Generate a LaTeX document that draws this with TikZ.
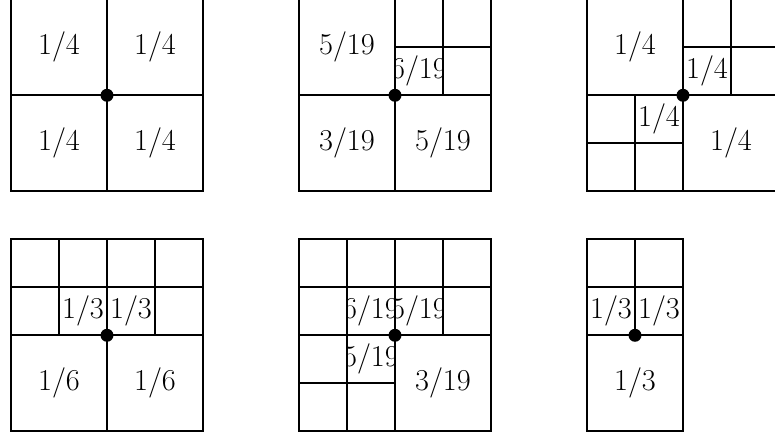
\documentclass[tikz,border=0pt]{standalone}
\usepackage{fontspec}
\usetikzlibrary{calc}

% number in a cell, cut to the cell
\newcommand{\cellnum}[4]{%
  \begin{scope}
    \clip #2 rectangle #3;
    \node (#1) at ($#2!0.5!#3$) {#4};
  \end{scope}}

\begin{document}
\begin{tikzpicture}[line width=1pt,
  every node/.style={font=\fontsize{18}{22}\selectfont},
  dot/.style={circle, fill, inner sep=0pt, minimum size=0.27cm}]
  \clip (-2.229,-7.16) rectangle (13.917,1.985);

  % top left
  \cellnum{a1}{(-2,0)}{(0,2)}{1/4}
  \cellnum{a2}{(0,0)}{(2,2)}{1/4}
  \cellnum{a3}{(-2,-2)}{(0,0)}{1/4}
  \cellnum{a4}{(0,-2)}{(2,0)}{1/4}
  \draw (-2,-2) rectangle (2,2);
  \draw (-2,0) -- (2,0);
  \draw (0,-2) -- (0,2);
  \node[dot] (ca) at (0,0) {};

  % top middle
  \cellnum{b1}{(4,0)}{(6,2)}{5/19}
  \cellnum{b2}{(6,0)}{(7,1)}{6/19}
  \cellnum{b3}{(4,-2)}{(6,0)}{3/19}
  \cellnum{b4}{(6,-2)}{(8,0)}{5/19}
  \draw (4,-2) rectangle (8,2);
  \draw (4,0) -- (8,0);
  \draw (6,-2) -- (6,2);
  \draw (7,0) -- (7,2);
  \draw (6,1) -- (8,1);
  \node[dot] (cb) at (6,0) {};

  % top right
  \cellnum{c1}{(10,0)}{(12,2)}{1/4}
  \cellnum{c2}{(12,0)}{(13,1)}{1/4}
  \cellnum{c3}{(11,-1)}{(12,0)}{1/4}
  \cellnum{c4}{(12,-2)}{(14,0)}{1/4}
  \draw (10,-2) rectangle (14,2);
  \draw (10,0) -- (14,0);
  \draw (12,-2) -- (12,2);
  \draw (13,0) -- (13,2);
  \draw (12,1) -- (14,1);
  \draw (11,-2) -- (11,0);
  \draw (10,-1) -- (12,-1);
  \node[dot] (cc) at (12,0) {};

  % bottom left
  \cellnum{d1}{(-1,-5)}{(0,-4)}{1/3}
  \cellnum{d2}{(0,-5)}{(1,-4)}{1/3}
  \cellnum{d3}{(-2,-7)}{(0,-5)}{1/6}
  \cellnum{d4}{(0,-7)}{(2,-5)}{1/6}
  \draw (-2,-7) rectangle (2,-3);
  \draw (-2,-4) -- (2,-4);
  \draw (-2,-5) -- (2,-5);
  \draw (0,-7) -- (0,-3);
  \draw (-1,-5) -- (-1,-3);
  \draw (1,-5) -- (1,-3);
  \node[dot] (cd) at (0,-5) {};

  % bottom middle
  \cellnum{e1}{(5,-5)}{(6,-4)}{6/19}
  \cellnum{e2}{(6,-5)}{(7,-4)}{5/19}
  \cellnum{e3}{(5,-6)}{(6,-5)}{5/19}
  \cellnum{e4}{(6,-7)}{(8,-5)}{3/19}
  \draw (4,-7) rectangle (8,-3);
  \draw (4,-4) -- (8,-4);
  \draw (4,-5) -- (8,-5);
  \draw (4,-6) -- (6,-6);
  \draw (5,-7) -- (5,-3);
  \draw (6,-7) -- (6,-3);
  \draw (7,-5) -- (7,-3);
  \node[dot] (ce) at (6,-5) {};

  % bottom right
  \cellnum{f1}{(10,-5)}{(11,-4)}{1/3}
  \cellnum{f2}{(11,-5)}{(12,-4)}{1/3}
  \cellnum{f3}{(10,-7)}{(12,-5)}{1/3}
  \draw (10,-7) rectangle (12,-3);
  \draw (10,-4) -- (12,-4);
  \draw (10,-5) -- (12,-5);
  \draw (11,-5) -- (11,-3);
  \node[dot] (cf) at (11,-5) {};
\end{tikzpicture}
\end{document}
